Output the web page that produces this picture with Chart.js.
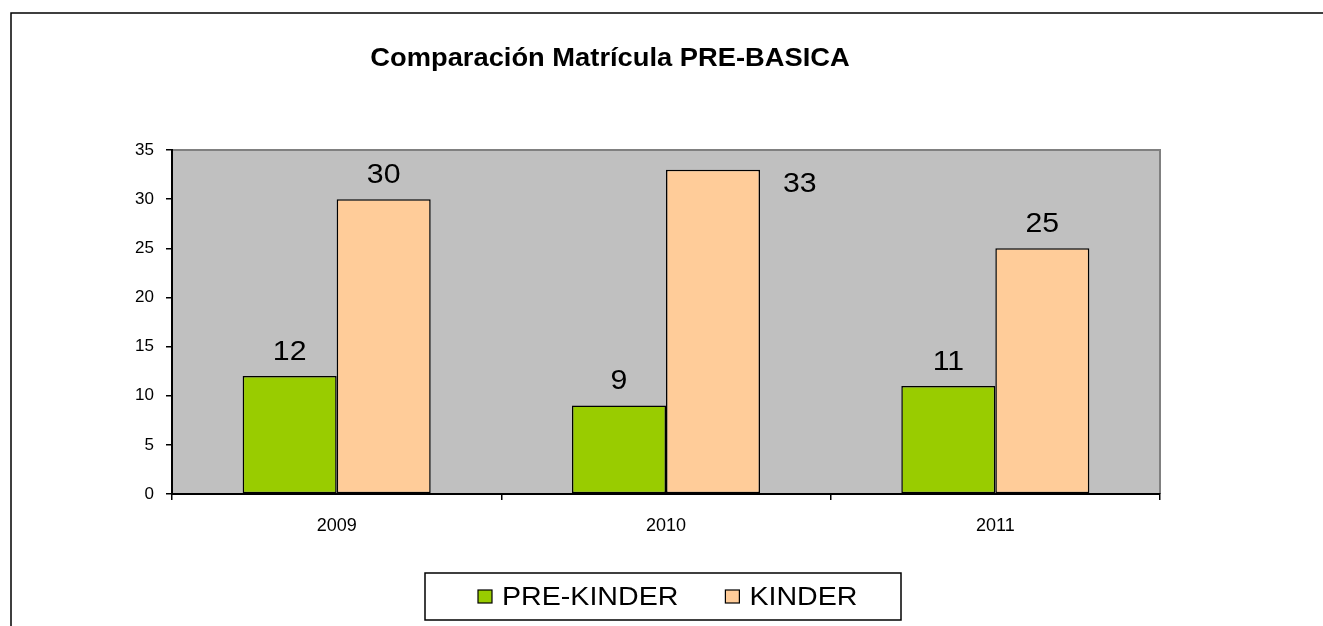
<!DOCTYPE html>
<html>
<head>
<meta charset="utf-8">
<script src="https://cdn.jsdelivr.net/npm/chart.js@4/dist/chart.umd.min.js"></script>
<style>
  body { margin: 0; background: #fff; }
  canvas { display: block; }
</style>
</head>
<body>
<canvas id="chart" width="1323" height="626"></canvas>
<script>
const chartTitle = 'Comparación Matrícula PRE-BASICA';
const years = ['2009', '2010', '2011'];
const preKinder = [12, 9, 11];
const kinder = [30, 33, 25];
const seriesNames = ['PRE-KINDER', 'KINDER'];
const seriesColors = ['#99CC00', '#FFCC99'];

const FONT = '"Liberation Sans", Arial, sans-serif';

// the source picture has slightly wide text, stretch it a bit
function wideText(ctx, txt, x, y, align, sx) {
  const w = ctx.measureText(txt).width * sx;
  let left = x;
  if (align === 'center') left = x - w / 2;
  ctx.save();
  ctx.textAlign = 'left';
  ctx.translate(left, y);
  ctx.scale(sx, 1);
  ctx.fillText(txt, 0, 0);
  ctx.restore();
  return w;
}

// frame, plot background, title, value labels and boxed legend
const decor = {
  id: 'decor',
  beforeDraw(chart) {
    const { ctx, chartArea: a } = chart;
    ctx.save();
    ctx.fillStyle = '#fff';
    ctx.fillRect(0, 0, chart.width, chart.height);
    ctx.strokeStyle = '#000';
    ctx.lineWidth = 1.5;
    ctx.strokeRect(11, 13, chart.width + 20, chart.height + 20);
    ctx.fillStyle = '#C0C0C0';
    ctx.fillRect(a.left, a.top, a.right - a.left, a.bottom - a.top);
    ctx.strokeStyle = '#808080';
    ctx.lineWidth = 2;
    ctx.beginPath();
    ctx.moveTo(a.left, a.top);
    ctx.lineTo(a.right, a.top);
    ctx.lineTo(a.right, a.bottom);
    ctx.stroke();
    ctx.restore();
  },
  afterDraw(chart) {
    const { ctx, chartArea: a } = chart;
    ctx.save();
    ctx.fillStyle = '#000';
    ctx.textBaseline = 'middle';

    // title
    ctx.font = 'bold 26px ' + FONT;
    wideText(ctx, chartTitle, 610, 59, 'center', 1.05);

    // value labels
    ctx.font = '28px ' + FONT;
    chart.data.datasets.forEach((ds, i) => {
      chart.getDatasetMeta(i).data.forEach((bar, j) => {
        const txt = String(ds.data[j]);
        if (bar.y - 38 < a.top) {
          wideText(ctx, txt, bar.x + bar.width / 2 + 23, bar.y + 15, 'left', 1.08);
        } else {
          wideText(ctx, txt, bar.x, bar.y - 24, 'center', 1.08);
        }
      });
    });

    // legend
    ctx.strokeStyle = '#000';
    ctx.lineWidth = 1.5;
    ctx.strokeRect(425, 573, 476, 47);
    ctx.font = '26px ' + FONT;
    let x = 478;
    chart.data.datasets.forEach((ds) => {
      ctx.fillStyle = ds.backgroundColor;
      ctx.fillRect(x, 590, 14, 13);
      ctx.lineWidth = 1.2;
      ctx.strokeRect(x, 590, 14, 13);
      ctx.fillStyle = '#000';
      const w = wideText(ctx, ds.label, x + 24, 598, 'left', 1.1);
      x += 24 + w + 47;
    });
    ctx.restore();
  }
};

new Chart(document.getElementById('chart'), {
  type: 'bar',
  data: {
    labels: years,
    datasets: [
      { label: seriesNames[0], data: preKinder, backgroundColor: seriesColors[0] },
      { label: seriesNames[1], data: kinder, backgroundColor: seriesColors[1] }
    ]
  },
  options: {
    responsive: false,
    animation: false,
    layout: { padding: { left: 0, top: 150, right: 163, bottom: 0 } },
    datasets: {
      bar: {
        borderColor: '#000',
        borderWidth: 1.5,
        borderSkipped: false,
        categoryPercentage: 0.571,
        barPercentage: 1.0
      }
    },
    plugins: {
      legend: { display: false },
      title: { display: false },
      tooltip: { enabled: false }
    },
    scales: {
      x: {
        afterFit: (s) => { s.height = 132; },
        grid: { drawOnChartArea: false, color: '#000', tickLength: 6, lineWidth: 1.5 },
        border: { color: '#000', width: 2 },
        ticks: { color: '#000', font: { family: FONT, size: 18 }, padding: 15 }
      },
      y: {
        min: 0,
        max: 35,
        afterFit: (s) => { s.width = 172; },
        grid: { drawOnChartArea: false, color: '#000', tickLength: 6, lineWidth: 1.5 },
        border: { color: '#000', width: 2 },
        ticks: { stepSize: 5, color: '#000', font: { family: FONT, size: 17 }, padding: 12 }
      }
    }
  },
  plugins: [decor]
});
</script>
</body>
</html>
